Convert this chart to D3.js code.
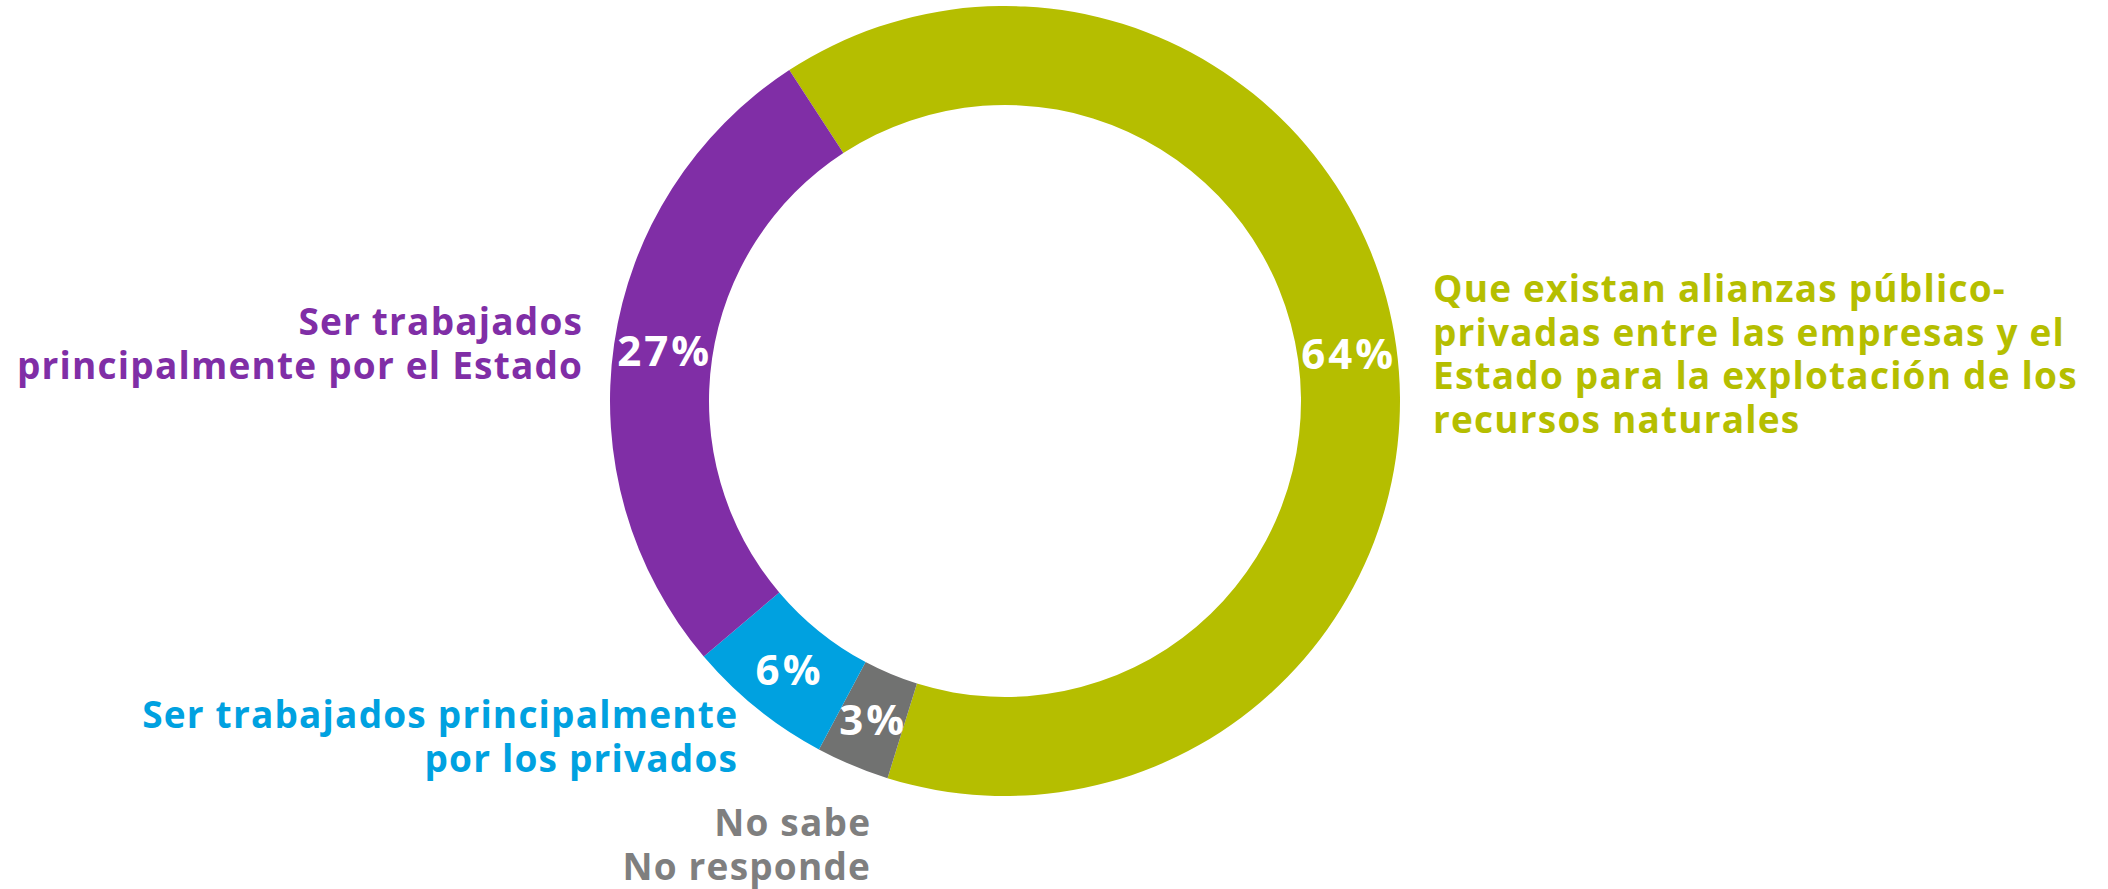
<!DOCTYPE html>
<html>
<head>
<meta charset="utf-8">
<script src="https://cdn.jsdelivr.net/npm/d3@7"></script>
<style>
  html, body { margin: 0; padding: 0; background: #ffffff; }
  svg { display: block; }
  text { font-family: "Open Sans", "DejaVu Sans", sans-serif; font-weight: 700; }
</style>
</head>
<body>
<svg id="chart" width="2108" height="889"></svg>
<script>
// ---- data ----
const categories = [
  "Que existan alianzas público-privadas entre las empresas y el Estado para la explotación de los recursos naturales",
  "No sabe / No responde",
  "Ser trabajados principalmente por los privados",
  "Ser trabajados principalmente por el Estado"
];
const values = [64, 3, 6, 27];
const valueLabels = ["64%", "3%", "6%", "27%"];
const labelLines = [
  ["Que existan alianzas público-", "privadas entre las empresas y el", "Estado para la explotación de los", "recursos naturales"],
  ["No sabe", "No responde"],
  ["Ser trabajados principalmente", "por los privados"],
  ["Ser trabajados", "principalmente por el Estado"]
];
const colors = ["#B5BE00", "#717271", "#00A1E0", "#802EA6"];
const textColors = ["#B5BE00", "#7F7F7F", "#00A1E0", "#802EA6"];

// ---- layout ----
const W = 2108, H = 889;
const cx = 1005, cy = 401;
const outerR = 395, innerR = 296;
const startDeg = -33.1;
const labelFont = 37, pctFont = 42, lineGap = 43.5;
// label anchors: [x, first baseline y, anchor]
const labelPos = [
  [1433, 302, "start"],
  [870, 836, "end"],
  [737, 728, "end"],
  [582, 335, "end"]
];

const svg = d3.select("#chart");
const g = svg.append("g").attr("transform", `translate(${cx},${cy})`);

const a0 = startDeg * Math.PI / 180;
const pie = d3.pie().sort(null).value(d => d).startAngle(a0).endAngle(a0 + 2 * Math.PI);
const arcs = pie(values);
const arc = d3.arc().innerRadius(innerR).outerRadius(outerR);

g.selectAll("path.slice")
  .data(arcs)
  .join("path")
  .attr("class", "slice")
  .attr("d", arc)
  .attr("fill", (d, i) => colors[i]);

g.selectAll("text.pct")
  .data(arcs)
  .join("text")
  .attr("class", "pct")
  .attr("transform", d => `translate(${arc.centroid(d)})`)
  .attr("text-anchor", "middle")
  .attr("dy", "0.36em")
  .attr("dx", 1.5)
  .attr("fill", "#ffffff")
  .style("font-size", pctFont + "px")
  .style("letter-spacing", "3px")
  .text((d, i) => valueLabels[i]);

const lab = svg.selectAll("text.cat")
  .data(labelLines)
  .join("text")
  .attr("class", "cat")
  .attr("fill", (d, i) => textColors[i])
  .attr("text-anchor", (d, i) => labelPos[i][2])
  .style("font-size", labelFont + "px")
  .style("letter-spacing", "1.2px");

lab.each(function(lines, i) {
  const anchorEnd = labelPos[i][2] === "end";
  d3.select(this).selectAll("tspan")
    .data(lines)
    .join("tspan")
    .attr("x", labelPos[i][0] + (anchorEnd ? 1.2 : 0))
    .attr("y", (l, j) => labelPos[i][1] + j * lineGap)
    .text(l => l);
});
</script>
</body>
</html>
